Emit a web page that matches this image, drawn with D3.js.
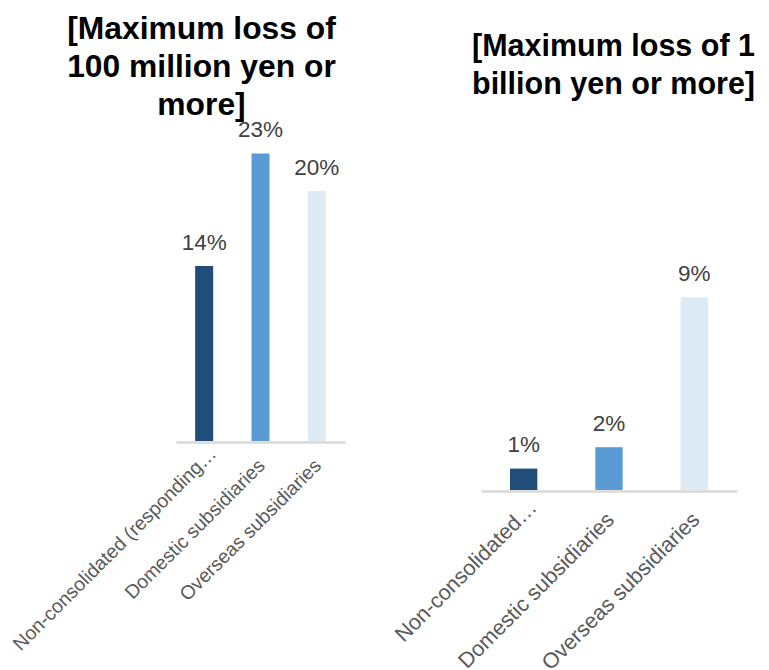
<!DOCTYPE html>
<html>
<head>
<meta charset="utf-8">
<script src="https://cdn.jsdelivr.net/npm/d3@7"></script>
<style>
  html, body { margin: 0; padding: 0; background: #ffffff; }
  svg { display: block; font-family: "Liberation Sans", Arial, sans-serif; }
</style>
</head>
<body>
<svg id="chart" width="769" height="670"></svg>
<script>
// Share of companies reporting a maximum loss above each threshold
const categories100M = ["Non-consolidated (responding…", "Domestic subsidiaries", "Overseas subsidiaries"];
const categories1B = ["Non-consolidated…", "Domestic subsidiaries", "Overseas subsidiaries"];
const valuesOver100M = [14, 23, 20];
const valuesOver1B = [1, 2, 9];
const title100M = ["[Maximum loss of", "100 million yen or", "more]"];
const title1B = ["[Maximum loss of 1", "billion yen or more]"];
const barColors = ["#1f4e79", "#5b9bd5", "#ddebf7"];

const svg = d3.select("#chart");

function drawPanel(cfg) {
  const g = svg.append("g");

  const x = d3.scaleBand()
    .domain(cfg.categories)
    .range([cfg.x0, cfg.x1])
    .paddingInner(0.68)
    .paddingOuter(0.34);

  const y = d3.scaleLinear()
    .domain([0, cfg.yMax])
    .range([cfg.base, cfg.base - cfg.yMax * cfg.pxPerUnit]);

  const color = d3.scaleOrdinal().domain(cfg.categories).range(barColors);

  const rows = cfg.categories.map((c, i) => ({ cat: c, value: cfg.values[i] }));

  // bars
  g.selectAll("rect.bar")
    .data(rows)
    .join("rect")
    .attr("class", "bar")
    .attr("x", d => x(d.cat))
    .attr("width", x.bandwidth())
    .attr("y", d => y(d.value))
    .attr("height", d => y(0) - y(d.value))
    .attr("fill", d => color(d.cat));

  // value labels
  g.selectAll("text.value")
    .data(rows)
    .join("text")
    .attr("class", "value")
    .attr("x", d => x(d.cat) + x.bandwidth() / 2)
    .attr("y", d => y(d.value) - 16.5)
    .attr("text-anchor", "middle")
    .attr("fill", "#404040")
    .style("font-size", "22.5px")
    .text(d => d.value + "%");

  // category axis
  const axis = g.append("g")
    .attr("transform", `translate(0,${cfg.base + 1})`)
    .call(d3.axisBottom(x).tickSize(0).tickSizeOuter(0));
  axis.select(".domain").attr("stroke", "#d9d9d9").attr("stroke-width", 2.3);
  axis.selectAll(".tick text")
    // shortened labels sit a little further out along the slant
    .attr("x", d => d.endsWith("…") ? 14 : 0)
    .attr("y", d => d.endsWith("…") ? -3 : 0)
    .attr("dy", 0)
    .attr("text-anchor", "end")
    .attr("fill", "#595959")
    .style("font-family", "\"Liberation Sans\", Arial, sans-serif")
    .style("font-size", cfg.labelSize + "px")
    .attr("transform", `translate(${cfg.labelDx},${cfg.labelDy}) rotate(-45)`);

  // title
  const t = g.append("text")
    .attr("fill", "#000000")
    .attr("text-anchor", cfg.titleAnchor)
    .style("font-weight", "bold")
    .style("font-size", cfg.titleSize + "px");
  t.selectAll("tspan")
    .data(cfg.title)
    .join("tspan")
    .attr("x", cfg.titleX)
    .attr("y", (d, i) => cfg.titleY + i * 38)
    .text(d => d);
}

drawPanel({
  categories: categories100M,
  values: valuesOver100M,
  x0: 176, x1: 345, base: 441,
  yMax: 25, pxPerUnit: 12.5,
  labelSize: 19.4, labelDx: 5.5, labelDy: 25,
  title: title100M, titleX: 201.5, titleY: 38.5, titleAnchor: "middle", titleSize: 31.8
});

drawPanel({
  categories: categories1B,
  values: valuesOver1B,
  x0: 481, x1: 737, base: 490,
  yMax: 10, pxPerUnit: 21.4,
  labelSize: 21.6, labelDx: 6.5, labelDy: 30,
  title: title1B, titleX: 472, titleY: 56, titleAnchor: "start", titleSize: 30.5
});
</script>
</body>
</html>
